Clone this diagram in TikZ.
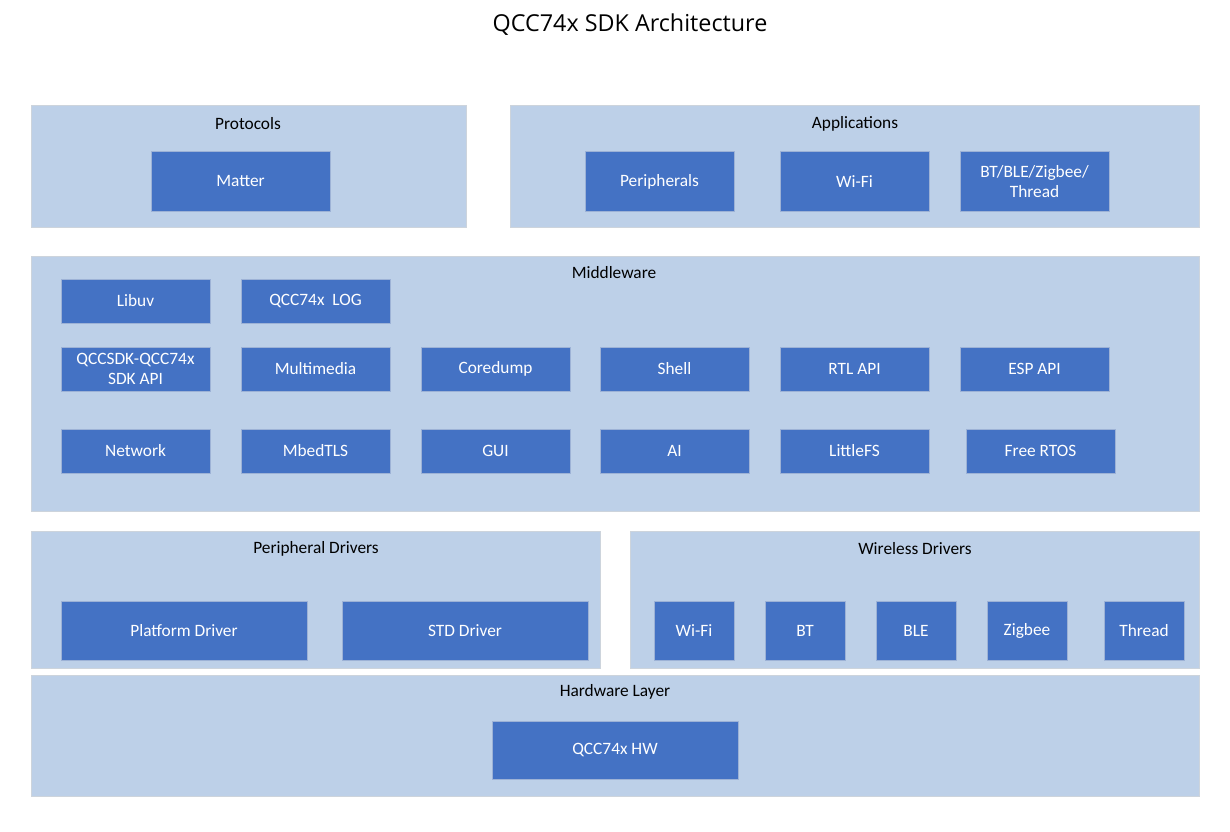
\documentclass[tikz,border=0pt]{standalone}
\usepackage{fontspec}
\setmainfont{Carlito}
\newfontfamily\ttlfont{Open Sans}
\usepackage{tikz}
\definecolor{layfill}{HTML}{BDD0E8}
\definecolor{laydraw}{HTML}{CDD4DC}
\definecolor{blkfill}{HTML}{4472C4}
\definecolor{blkdraw}{HTML}{9DB2D6}
\tikzset{wh/.style 2 args={minimum width=#1*0.75pt, minimum height=#2*0.75pt}}
\tikzset{lay/.style={draw=laydraw, fill=layfill, line width=0.75pt, inner sep=0pt, outer sep=0pt}}
\tikzset{blk/.style={draw=blkdraw, fill=blkfill, line width=0.75pt, inner sep=0pt, outer sep=0pt, text=white, align=center, font=\fontsize{13}{15}\selectfont}}
\tikzset{ttl/.style={font=\fontsize{13}{15}\selectfont, inner sep=0pt}}

\begin{document}
\begin{tikzpicture}[x=0.75pt, y=-0.75pt]
    \useasboundingbox (0,0) rectangle (1230,831);
    \node (title) at (630,25) {\ttlfont\fontsize{17.5}{20}\selectfont QCC74x SDK Architecture};
    % layers
    \node[lay, wh={435}{121}] (proto) at (248.5,166.5) {};
    \node[lay, wh={689}{121}] (apps) at (854.5,166.5) {};
    \node[lay, wh={1168}{255}] (mid) at (615,383.5) {};
    \node[lay, wh={569}{137}] (pdrv) at (315.5,599.5) {};
    \node[lay, wh={569}{137}] (wdrv) at (914.5,599.5) {};
    \node[lay, wh={1168}{121}] (hw) at (615,735.5) {};
    \node[ttl] (protoT) at (248,124) {Protocols};
    \node[ttl] (appsT) at (855,124) {Applications};
    \node[ttl] (midT) at (614,273) {Middleware};
    \node[ttl] (pdrvT) at (316,549) {Peripheral Drivers};
    \node[ttl] (wdrvT) at (915,549) {Wireless Drivers};
    \node[ttl] (hwT) at (615,692) {Hardware Layer};
    % protocols and applications
    \node[blk, wh={179}{59}] (matter) at (240.5,181.5) {Matter};
    \node[blk, wh={149}{59}] (periph) at (659.5,181.5) {Peripherals};
    \node[blk, wh={149}{59}] (wifiA) at (854.5,181.5) {Wi-Fi};
    \node[blk, wh={149}{59}] (btA) at (1034.5,181.5) {BT/BLE/Zigbee/\\Thread};
    % middleware
    \node[blk, wh={149}{44}] (libuv) at (135.5,301) {Libuv};
    \node[blk, wh={149}{44}] (log) at (315.5,301) {QCC74x\ \ LOG};
    \node[blk, wh={149}{44}] (sdkapi) at (135.5,369) {QCCSDK-QCC74x\\SDK API};
    \node[blk, wh={149}{44}] (mmedia) at (315.5,369) {Multimedia};
    \node[blk, wh={149}{44}] (cdump) at (495.5,369) {Coredump};
    \node[blk, wh={149}{44}] (shell) at (674.5,369) {Shell};
    \node[blk, wh={149}{44}] (rtl) at (854.5,369) {RTL API};
    \node[blk, wh={149}{44}] (esp) at (1034.5,369) {ESP API};
    \node[blk, wh={149}{44}] (net) at (135.5,451) {Network};
    \node[blk, wh={149}{44}] (tls) at (315.5,451) {MbedTLS};
    \node[blk, wh={149}{44}] (gui) at (495.5,451) {GUI};
    \node[blk, wh={149}{44}] (ai) at (674.5,451) {AI};
    \node[blk, wh={149}{44}] (lfs) at (854.5,451) {LittleFS};
    \node[blk, wh={149}{44}] (rtos) at (1040.5,451) {Free RTOS};
    % drivers
    \node[blk, wh={246}{59}] (plat) at (184,630.5) {Platform Driver};
    \node[blk, wh={246}{59}] (std) at (465,630.5) {STD Driver};
    \node[blk, wh={80}{59}] (wifiD) at (694,630.5) {Wi-Fi};
    \node[blk, wh={80}{59}] (bt) at (805,630.5) {BT};
    \node[blk, wh={80}{59}] (ble) at (916,630.5) {BLE};
    \node[blk, wh={80}{59}] (zig) at (1027,630.5) {Zigbee};
    \node[blk, wh={80}{59}] (thr) at (1144,630.5) {Thread};
    % hardware
    \node[blk, wh={246}{58}] (hwblk) at (615,750) {QCC74x HW};
\end{tikzpicture}
\end{document}
